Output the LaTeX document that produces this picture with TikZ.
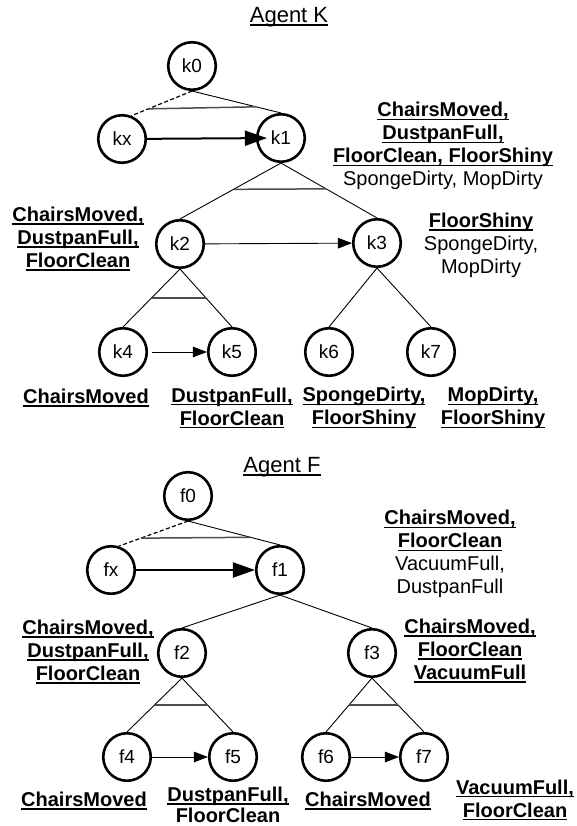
\documentclass[tikz,border=0pt]{standalone}
\usepackage{fontspec}
\setmainfont{Liberation Sans}
\usetikzlibrary{arrows.meta,calc}

% underlined text with a rule at a fixed depth below the baseline
\newcommand\ulbox[1]{\leavevmode\setbox0\hbox{#1}\rlap{\rule[-3.4pt]{\wd0}{1.5pt}}\box0}
\newcommand\hb[1]{\ulbox{\textbf{#1}}}

\tikzset{
  state/.style={circle, draw, line width=2.6pt, minimum size=47.5pt, inner sep=0pt,
                font=\fontsize{19}{19}\selectfont},
  fan/.style={line width=0.9pt},
  andbar/.style={line width=1.5pt, draw=black!70},
  seq/.style={line width=0.9pt, -{Triangle[length=14pt,width=10.5pt]}},
  bigseq/.style={line width=2pt, -{Triangle[length=22pt,width=15pt]}},
  alt/.style={line width=1.2pt, dash pattern=on 4pt off 2.5pt},
  facts/.style={align=center, inner sep=0pt, font=\fontsize{20}{23}\selectfont},
  title/.style={inner sep=0pt, font=\fontsize{22}{22}\selectfont},
}

\begin{document}
\begin{tikzpicture}[x=1pt, y=-1pt]
\useasboundingbox (0,0) rectangle (577,826);

% ---------------- Agent K ----------------
\node[title] (tk) at (289,17) {\ulbox{Agent K}};

\node[state] (k0) at (192,66) {k0};
\node[state] (kx) at (122,139) {kx};
\node[state] (k1) at (281,138) {k1};
\node[state] (k2) at (180,244) {k2};
\node[state] (k3) at (377,243) {k3};
\node[state] (k4) at (123,352) {k4};
\node[state] (k5) at (232,352) {k5};
\node[state] (k6) at (329,352) {k6};
\node[state] (k7) at (431,352) {k7};

\draw[alt] (k0.south) -- (kx.68);
\draw[fan] (k0.south) -- (k1.north);
\draw[andbar] ($(k0.south)!0.72!(kx.68)$) -- ($(k0.south)!0.72!(k1.north)$);
\draw[bigseq, shorten >=-11pt] (kx) -- (k1);

\draw[fan] (k1.south) -- (k2.north);
\draw[fan] (k1.south) -- (k3.north);
\draw[andbar] ($(k1.south)!0.47!(k2.north)$) -- ($(k1.south)!0.47!(k3.north)$);
\draw[seq] (k2) -- (k3);

\draw[fan] (k2.south) -- (k4.north);
\draw[fan] (k2.south) -- (k5.north);
\draw[andbar] ($(k2.south)!0.5!(k4.north)$) -- ($(k2.south)!0.5!(k5.north)$);
\draw[seq, shorten <=4pt] (k4) -- (k5);

\draw[fan] (k3.south) -- (k6.north);
\draw[fan] (k3.south) -- (k7.north);

\node[facts] (lk1) at (443,146) {\hb{ChairsMoved,}\\ \hb{DustpanFull,}\\ \hb{FloorClean, FloorShiny}\\ SpongeDirty, MopDirty};
\node[facts] (lk2) at (78,239) {\hb{ChairsMoved,}\\ \hb{DustpanFull,}\\ \hb{FloorClean}};
\node[facts] (lk3) at (481,245) {\hb{FloorShiny}\\ SpongeDirty,\\ MopDirty};
\node[facts] (lk4) at (86,398) {\hb{ChairsMoved}};
\node[facts] (lk5) at (232,408) {\hb{DustpanFull,}\\ \hb{FloorClean}};
\node[facts] (lk6) at (364,408) {\hb{SpongeDirty,}\\ \hb{FloorShiny}};
\node[facts] (lk7) at (493,408) {\hb{MopDirty,}\\ \hb{FloorShiny}};

% ---------------- Agent F ----------------
\node[title] (tf) at (282,467) {\ulbox{Agent F}};

\node[state] (f0) at (188,496) {f0};
\node[state] (fx) at (111,570) {fx};
\node[state] (f1) at (280,570) {f1};
\node[state] (f2) at (182,653) {f2};
\node[state] (f3) at (372,653) {f3};
\node[state] (f4) at (127,757) {f4};
\node[state] (f5) at (233,757) {f5};
\node[state] (f6) at (326,757) {f6};
\node[state] (f7) at (424,757) {f7};

\draw[alt] (f0.south) -- (fx.72);
\draw[fan] (f0.south) -- (f1.north);
\draw[andbar] ($(f0.south)!0.68!(fx.72)$) -- ($(f0.south)!0.68!(f1.north)$);
\draw[bigseq] (fx) -- (f1);

\draw[fan] (f1.south) -- (f2.north);
\draw[fan] (f1.south) -- (f3.north);

\draw[fan] (f2.south) -- (f4.north);
\draw[fan] (f2.south) -- (f5.north);
\draw[andbar] ($(f2.south)!0.5!(f4.north)$) -- ($(f2.south)!0.5!(f5.north)$);
\draw[seq] (f4) -- (f5);

\draw[fan] (f3.south) -- (f6.north);
\draw[fan] (f3.south) -- (f7.north);
\draw[andbar] ($(f3.south)!0.5!(f6.north)$) -- ($(f3.south)!0.5!(f7.north)$);
\draw[seq] (f6) -- (f7);

\node[facts] (lf1) at (450,554) {\hb{ChairsMoved,}\\ \hb{FloorClean}\\ VacuumFull,\\ DustpanFull};
\node[facts] (lf2) at (88,652) {\hb{ChairsMoved,}\\ \hb{DustpanFull,}\\ \hb{FloorClean}};
\node[facts] (lf3) at (470,651) {\hb{ChairsMoved,}\\ \hb{FloorClean}\\ \hb{VacuumFull}};
\node[facts] (lf4) at (84,801) {\hb{ChairsMoved}};
\node[facts, anchor=south, font=\fontsize{20}{21}\selectfont] (lf5) at (228,822.5) {\hb{DustpanFull,}\\ \textbf{FloorClean}};
\node[facts] (lf6) at (368,801) {\hb{ChairsMoved}};
\node[facts] (lf7) at (515,800) {\hb{VacuumFull,}\\ \hb{FloorClean}};
\end{tikzpicture}
\end{document}
